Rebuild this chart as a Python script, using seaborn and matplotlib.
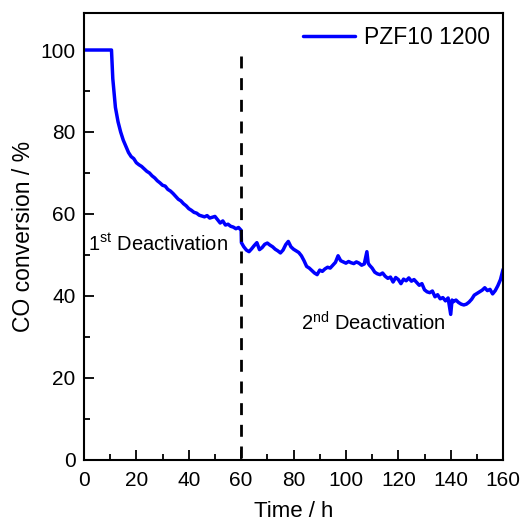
import pandas as pd
import matplotlib
matplotlib.use("Agg")
import matplotlib.pyplot as plt
import seaborn as sns
from matplotlib.ticker import MultipleLocator

time_h = [0, 10.5, 11, 12, 13, 14, 15, 16, 17, 18, 19, 20, 21, 22, 23, 24, 25, 26, 27, 28, 29,
          30, 31, 32, 33, 34, 35, 36, 37, 38, 39, 40, 41, 42, 43, 44, 45, 46, 47, 48, 49,
          50, 51, 52, 53, 54, 55, 56, 57, 58, 59, 60, 60.1, 61, 62, 63, 64, 65, 66, 67, 68, 69,
          70, 71, 72, 73, 74, 75, 76, 77, 78, 79, 80, 81, 82, 83, 84, 85, 86, 87, 88, 89,
          90, 91, 92, 93, 94, 95, 96, 97, 98, 99, 100, 101, 102, 103, 104, 105, 106, 107, 108, 108.5, 109,
          110, 111, 112, 113, 114, 115, 116, 117, 118, 119, 120, 121, 122, 123, 124, 125, 126, 127, 128, 129,
          130, 131, 132, 133, 134, 135, 136, 137, 138, 139, 140, 140.5, 141, 142, 143, 144, 145, 146, 147, 148, 149,
          150, 151, 152, 153, 154, 155, 156, 157, 158, 159, 160]
conversion = [100, 100, 93, 86, 82.5, 80, 78, 76.5, 75, 74, 73.5, 72.5, 72.0, 71.6, 71.0, 70.4, 70.0, 69.3, 68.8, 68.1, 67.6,
              67.0, 66.8, 66.0, 65.6, 65.0, 64.3, 63.6, 63.2, 62.5, 62.0, 61.3, 60.9, 60.4, 60.2, 59.7, 59.5, 59.3, 59.6, 59.0, 59.2,
              59.4, 58.6, 57.8, 58.3, 57.3, 57.5, 57.0, 56.8, 56.4, 56.7, 56.0, 53.0, 52.0, 51.2, 50.8, 51.5, 52.3, 53.0, 51.3, 51.8, 52.6,
              52.9, 52.4, 52.0, 51.4, 51.0, 50.5, 51.2, 52.5, 53.3, 52.0, 51.4, 51.0, 50.6, 49.8, 48.6, 47.2, 46.8, 46.2, 45.6, 45.2,
              46.3, 46.0, 46.6, 47.0, 46.8, 47.5, 48.2, 49.8, 48.6, 48.3, 48.0, 48.4, 48.1, 47.9, 48.3, 48.0, 47.5, 47.8, 50.8, 48.0, 47.5,
              46.8, 45.8, 45.4, 45.2, 45.6, 44.8, 44.3, 44.6, 43.4, 44.5, 44.0, 43.0, 44.1, 43.7, 44.4, 43.6, 44.0, 43.3, 42.6, 43.0,
              41.5, 41.0, 40.8, 41.2, 39.8, 40.3, 39.3, 39.6, 38.8, 39.5, 35.5, 39.0, 38.6, 39.0, 38.4, 38.0, 37.8, 38.0, 38.5, 39.2, 40.2,
              40.6, 41.0, 41.4, 42.0, 41.3, 41.6, 40.5, 41.3, 42.5, 44.0, 46.5]

sns.set_style("ticks")
plt.rcParams['font.family'] = ['Liberation Sans', 'DejaVu Sans']
plt.rcParams['mathtext.fontset'] = 'custom'
plt.rcParams['mathtext.rm'] = 'Liberation Sans'
plt.rcParams['text.color'] = 'black'
plt.rcParams['axes.labelcolor'] = 'black'
plt.rcParams['xtick.color'] = 'black'
plt.rcParams['ytick.color'] = 'black'

df = pd.DataFrame({'time': time_h, 'conv': conversion})

fig = plt.figure(figsize=(5.2, 5.25), dpi=100)
ax = fig.add_axes([0.1615, 0.124, 0.806, 0.851])
sns.lineplot(data=df, x='time', y='conv', sort=False, color='#0000FF', linewidth=2.5,
             label='PZF10 1200', ax=ax)

# boundary between the two deactivation stages
ax.plot([60, 60], [98.5, 0], color='black', linestyle=(0, (4.3, 3.5)), linewidth=2)

ax.text(1.5, 52.5, r'1$^{\mathrm{st}}$ Deactivation', fontsize=14.5, va='center')
ax.text(83, 33.5, r'2$^{\mathrm{nd}}$ Deactivation', fontsize=14.5, va='center')

ax.set_xlim(0, 160)
ax.set_ylim(0, 109)
ax.xaxis.set_major_locator(MultipleLocator(20))
ax.xaxis.set_minor_locator(MultipleLocator(10))
ax.yaxis.set_major_locator(MultipleLocator(20))
ax.yaxis.set_minor_locator(MultipleLocator(10))
ax.tick_params(which='both', direction='in', top=False, right=False, width=1.3, labelsize=15)
ax.tick_params(which='major', length=7)
ax.tick_params(which='minor', length=4)
ax.tick_params(axis='x', pad=8)
ax.tick_params(axis='y', pad=6)
for s in ax.spines.values():
    s.set_linewidth(1.5)
    s.set_color('black')

ax.set_xlabel('Time / h', fontsize=16, labelpad=8)
ax.set_ylabel('CO conversion / %', fontsize=16.5, labelpad=4)

ax.legend(loc='upper right', frameon=False, fontsize=16.5, handlelength=2.3,
          borderaxespad=0.15, handletextpad=0.4)

fig.savefig('out.png', dpi=100)
